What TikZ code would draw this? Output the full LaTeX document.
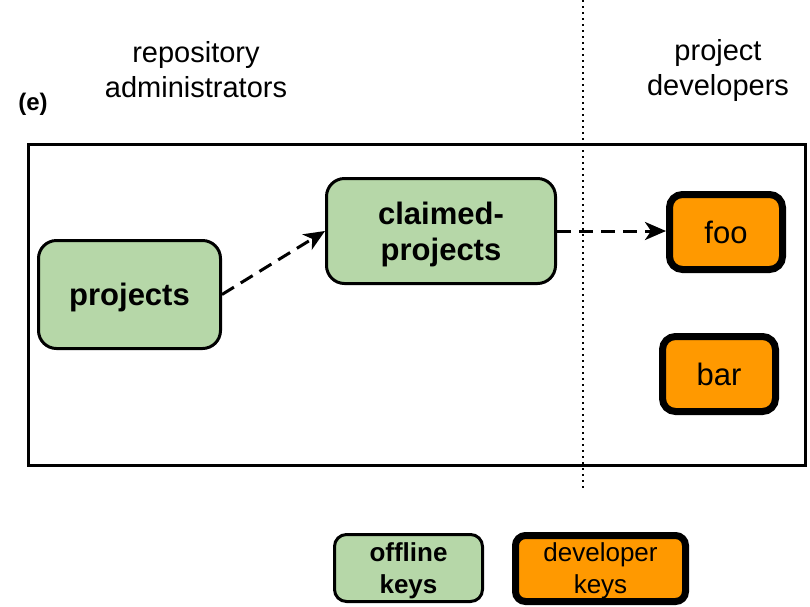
\documentclass[tikz,border=0pt]{standalone}
\usepackage{fontspec}
\setmainfont{Liberation Sans}
\usetikzlibrary{arrows.meta}
\definecolor{offgreen}{HTML}{B6D7A8}
\definecolor{devorange}{HTML}{FF9900}
\begin{document}
\begin{tikzpicture}[x=1pt,y=-1pt,
  offlinebox/.style={draw=black, line width=3pt, fill=offgreen, rounded corners=18pt,
    align=center, inner sep=0pt, text depth=-2pt, font=\fontsize{31}{36}\selectfont\bfseries},
  devbox/.style={draw=black, line width=7pt, fill=devorange, rounded corners=13pt,
    align=center, inner sep=0pt, font=\fontsize{31}{36}\selectfont},
  flow/.style={line width=3pt, dash pattern=on 14pt off 8pt,
    -{Stealth[length=21pt,width=18pt,inset=6pt]}},
  rolelabel/.style={align=center, font=\fontsize{29}{35}\selectfont}]
\useasboundingbox (0,0) rectangle (810,606);

% role headings and divider
\node[rolelabel] (admins) at (196,70) {repository\\administrators};
\node[rolelabel] (devs) at (718,70) {project\\developers};
\node[font=\fontsize{24}{28}\selectfont\bfseries] (tag) at (33,104) {(e)};
\coordinate (divtop) at (583,0);
\coordinate (divbot) at (583,490);
\draw[line width=1.5pt, dash pattern=on 1.5pt off 4.5pt] (divtop) -- (divbot);

% frame
\node[draw=black, line width=3pt, minimum width=777pt, minimum height=321pt, inner sep=0pt]
  (frame) at (417,305) {};

% roles
\node[offlinebox, minimum width=182pt, minimum height=108pt] (projects) at (129.5,294.5) {projects};
\node[offlinebox, text depth=-5pt, minimum width=229pt, minimum height=105pt] (claimed) at (441,231) {claimed-\\projects};
\node[devbox, minimum width=113pt, minimum height=75pt] (foo) at (726,232) {foo};
\node[devbox, minimum width=113pt, minimum height=75pt] (bar) at (719,374) {bar};

% delegations
\draw[flow] (projects.east) -- (claimed.west);
\draw[flow] (claimed.east) -- (claimed.east -| foo.west);

% legend
\node[offlinebox, rounded corners=12pt, minimum width=148pt, minimum height=67pt,
  font=\fontsize{26}{32}\selectfont\bfseries] (legoff) at (408.5,568) {offline\\keys};
\node[devbox, rounded corners=10pt, minimum width=170pt, minimum height=66pt,
  text depth=-2pt, font=\fontsize{26}{32}\selectfont] (legdev) at (600.5,568.5) {developer\\keys};
\end{tikzpicture}
\end{document}
